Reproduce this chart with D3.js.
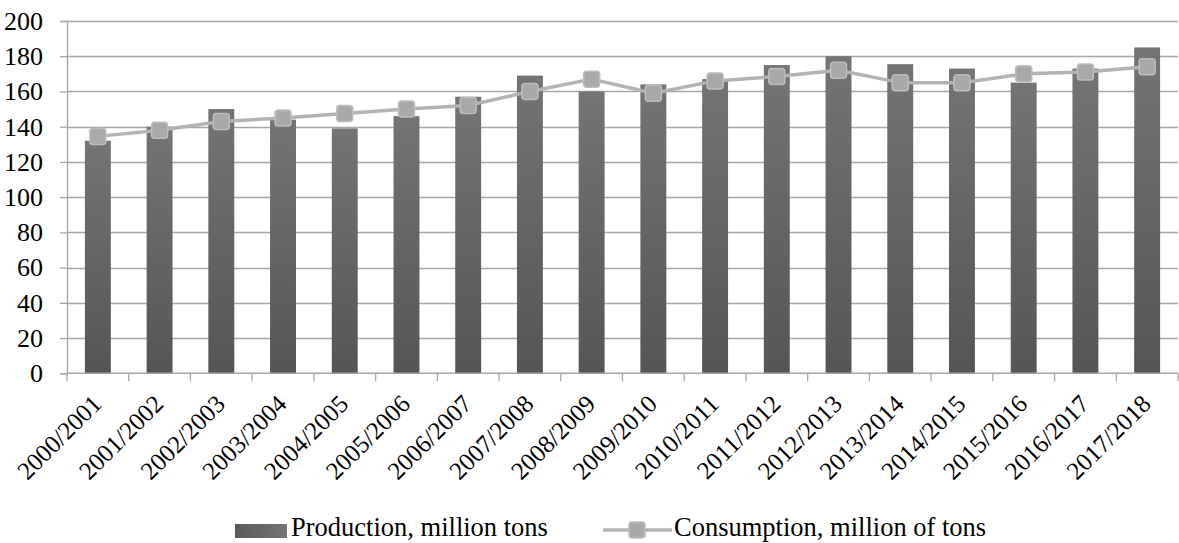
<!DOCTYPE html>
<html>
<head>
<meta charset="utf-8">
<title>production vs consumption</title>
<script src="https://cdn.jsdelivr.net/npm/d3@7/dist/d3.min.js"></script>
<style>
  body { margin: 0; background: #fff; }
  text { font-family: "Liberation Serif", "Times New Roman", serif; fill: #000; }
</style>
</head>
<body>
<svg width="1179" height="543"></svg>
<script>
// data
var seasons = ["2000/2001","2001/2002","2002/2003","2003/2004","2004/2005","2005/2006",
  "2006/2007","2007/2008","2008/2009","2009/2010","2010/2011","2011/2012",
  "2012/2013","2013/2014","2014/2015","2015/2016","2016/2017","2017/2018"];
var production = [132, 140, 150, 144, 139, 146, 157, 169, 160, 164, 167, 175, 180, 175.5, 173, 165, 173, 185];
var consumption = [134.5, 138, 143, 145, 147.5, 150, 152, 160, 167, 159, 166, 168.5, 172, 165, 165, 170, 171, 174];
var yTicks = [0, 20, 40, 60, 80, 100, 120, 140, 160, 180, 200];
var seriesNames = ["Production, million tons", "Consumption, million of tons"];

var svg = d3.select("svg"),
    W = +svg.attr("width"),
    x0 = 67, x1 = W - 1,
    yBottom = 373.3, yTop = 21,
    fs = 26.5, fsX = 25;

var x = d3.scaleBand().domain(seasons).range([x0, x1]).paddingInner(0).paddingOuter(0);
var y = d3.scaleLinear().domain([0, 200]).range([yBottom, yTop]);

// gradients
var defs = svg.append("defs");
var grad = defs.append("linearGradient").attr("id", "barGrad")
  .attr("x1", 0).attr("y1", 0).attr("x2", 0).attr("y2", 1);
grad.append("stop").attr("offset", "0%").attr("stop-color", "#747474");
grad.append("stop").attr("offset", "100%").attr("stop-color", "#555555");
var gradH = defs.append("linearGradient").attr("id", "legGrad")
  .attr("x1", 0).attr("y1", 0).attr("x2", 1).attr("y2", 0);
gradH.append("stop").attr("offset", "0%").attr("stop-color", "#5a5a5a");
gradH.append("stop").attr("offset", "100%").attr("stop-color", "#747474");

// gridlines
svg.append("g").selectAll("line").data(yTicks.slice(1)).enter().append("line")
  .attr("x1", x0).attr("x2", x1)
  .attr("y1", d => Math.round(y(d)) + 0.5).attr("y2", d => Math.round(y(d)) + 0.5)
  .attr("stroke", "#a6a6a6").attr("stroke-width", 1.3);

// y axis
var yAxis = svg.append("g").attr("transform", `translate(${x0},0)`)
  .call(d3.axisLeft(y).tickValues(yTicks).tickSize(7).tickPadding(17));
yAxis.attr("font-family", "Liberation Serif").attr("font-size", 26);
yAxis.select(".domain").attr("stroke", "#a6a6a6").attr("stroke-width", 1.3);
yAxis.selectAll(".tick line").attr("stroke", "#a6a6a6").attr("stroke-width", 1.3);
yAxis.selectAll(".tick text").attr("fill", "#000");

// bars
var bw = x.bandwidth() * 0.42;
svg.append("g").selectAll("rect").data(production).enter().append("rect")
  .attr("x", (d, i) => x(seasons[i]) + (x.bandwidth() - bw) / 2)
  .attr("width", bw)
  .attr("y", d => y(d))
  .attr("height", d => y(0) - y(d))
  .attr("fill", "url(#barGrad)");

// x axis with ticks at category boundaries
var xg = svg.append("g");
xg.append("line").attr("x1", x0).attr("x2", x1)
  .attr("y1", y(0)).attr("y2", y(0))
  .attr("stroke", "#a6a6a6").attr("stroke-width", 1.5);
var bounds = seasons.map(s => x(s)).concat([x1]);
xg.selectAll("line.tk").data(bounds).enter().append("line").attr("class", "tk")
  .attr("x1", d => d).attr("x2", d => d)
  .attr("y1", y(0)).attr("y2", y(0) + 8)
  .attr("stroke", "#a6a6a6").attr("stroke-width", 1.3);
xg.selectAll("text").data(seasons).enter().append("text")
  .attr("transform", d => `translate(${x(d) + x.bandwidth() / 2 - 1},${y(0) + 26}) rotate(-45)`)
  .attr("text-anchor", "end")
  .attr("font-size", fsX)
  .attr("dy", "0.35em")
  .text(d => d);

// consumption line with square markers
var cx = (d, i) => x(seasons[i]) + x.bandwidth() / 2;
var line = d3.line().x(cx).y(d => y(d));
svg.append("path").datum(consumption)
  .attr("d", line).attr("fill", "none")
  .attr("stroke", "#b3b3b3").attr("stroke-width", 3.5).attr("stroke-linejoin", "round");
svg.append("g").selectAll("rect").data(consumption).enter().append("rect")
  .attr("x", (d, i) => cx(d, i) - 8).attr("y", d => y(d) - 8)
  .attr("width", 16).attr("height", 16).attr("rx", 3)
  .attr("fill", "#a9a9a9").attr("stroke", "#bdbdbd").attr("stroke-width", 1.5);

// legend
var leg = svg.append("g");
leg.append("rect").attr("x", 235).attr("y", 524).attr("width", 52).attr("height", 14)
  .attr("fill", "url(#legGrad)");
leg.append("text").attr("x", 291).attr("y", 536).attr("font-size", fs).text(seriesNames[0]);
leg.append("line").attr("x1", 603).attr("x2", 672).attr("y1", 530).attr("y2", 530)
  .attr("stroke", "#b3b3b3").attr("stroke-width", 3.5);
leg.append("rect").attr("x", 629).attr("y", 522).attr("width", 16).attr("height", 16).attr("rx", 3)
  .attr("fill", "#a9a9a9").attr("stroke", "#bdbdbd").attr("stroke-width", 1.5);
leg.append("text").attr("x", 674).attr("y", 536).attr("font-size", fs).text(seriesNames[1]);
</script>
</body>
</html>
